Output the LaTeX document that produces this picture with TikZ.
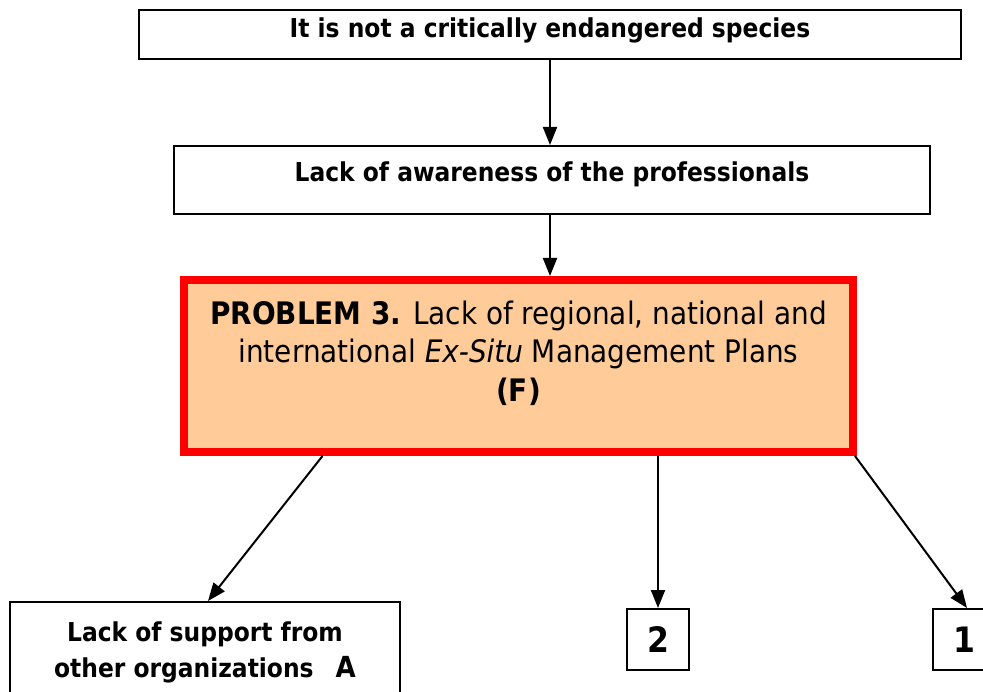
\documentclass[tikz,border=0pt]{standalone}
\usepackage{fontspec}
\setmainfont{DejaVu Sans Condensed}
\usetikzlibrary{arrows.meta}
\definecolor{probfill}{HTML}{FFCC99}
\begin{document}
\begin{tikzpicture}[x=1pt,y=-1pt,>={Triangle[length=18pt,width=14pt]},
  box/.style={draw=black,line width=2pt,fill=white,inner sep=0pt},
  prob box/.style={draw=red,line width=8pt,fill=probfill,inner sep=0pt},
  box text/.style={font=\fontsize{26}{36}\selectfont\bfseries,align=center},
  prob text/.style={font=\fontsize{31}{38.5}\selectfont,align=center},
  num text/.style={font=\fontsize{35}{36}\selectfont\bfseries},
  arr/.style={->,line width=2pt}]%
\useasboundingbox (0,0) rectangle (983,692);
% boxes
\node[box,minimum width=822pt,minimum height=49pt] (species) at (550,34.5) {};
\node[box text] (species text) at ([yshift=4pt]species.center) {It is not a critically endangered species};
\node[box,minimum width=756pt,minimum height=68pt] (aware) at (552,180) {};
\node[box text] (aware text) at ([yshift=6pt]aware.center) {Lack of awareness of the professionals};
\node[prob box,minimum width=669pt,minimum height=172pt] (prob) at (518.5,366) {};
\node[prob text] (prob text) at ([yshift=13pt]prob.center) {\textbf{PROBLEM 3.} Lack of regional, national and\\international \textit{Ex-Situ} Management Plans\\\textbf{(F)}};
\node[box,box text,minimum width=390pt,minimum height=100pt] (support) at (205,652) {Lack of support from\\other organizations\hspace{22pt}{\fontsize{29}{36}\selectfont A}};
\node[box,num text,minimum width=62pt,minimum height=61pt] (two) at (658,639.5) {2};
\node[box,num text,minimum width=62pt,minimum height=61pt] (one) at (964,639.5) {1};
% arrows
\draw[arr] (species.south -| 550,0) -- (aware.north -| 550,0);
\draw[arr] (aware.south -| 550,0) -- (prob.north -| 550,0);
\draw[arr] ([xshift=-196pt]prob.south) -- ([xshift=3pt]support.north);
\draw[arr] (prob.south -| two.north) -- (two.north);
\draw[arr] ([xshift=-2pt]prob.south east) -- ([xshift=3pt]one.north);
\end{tikzpicture}
\end{document}
